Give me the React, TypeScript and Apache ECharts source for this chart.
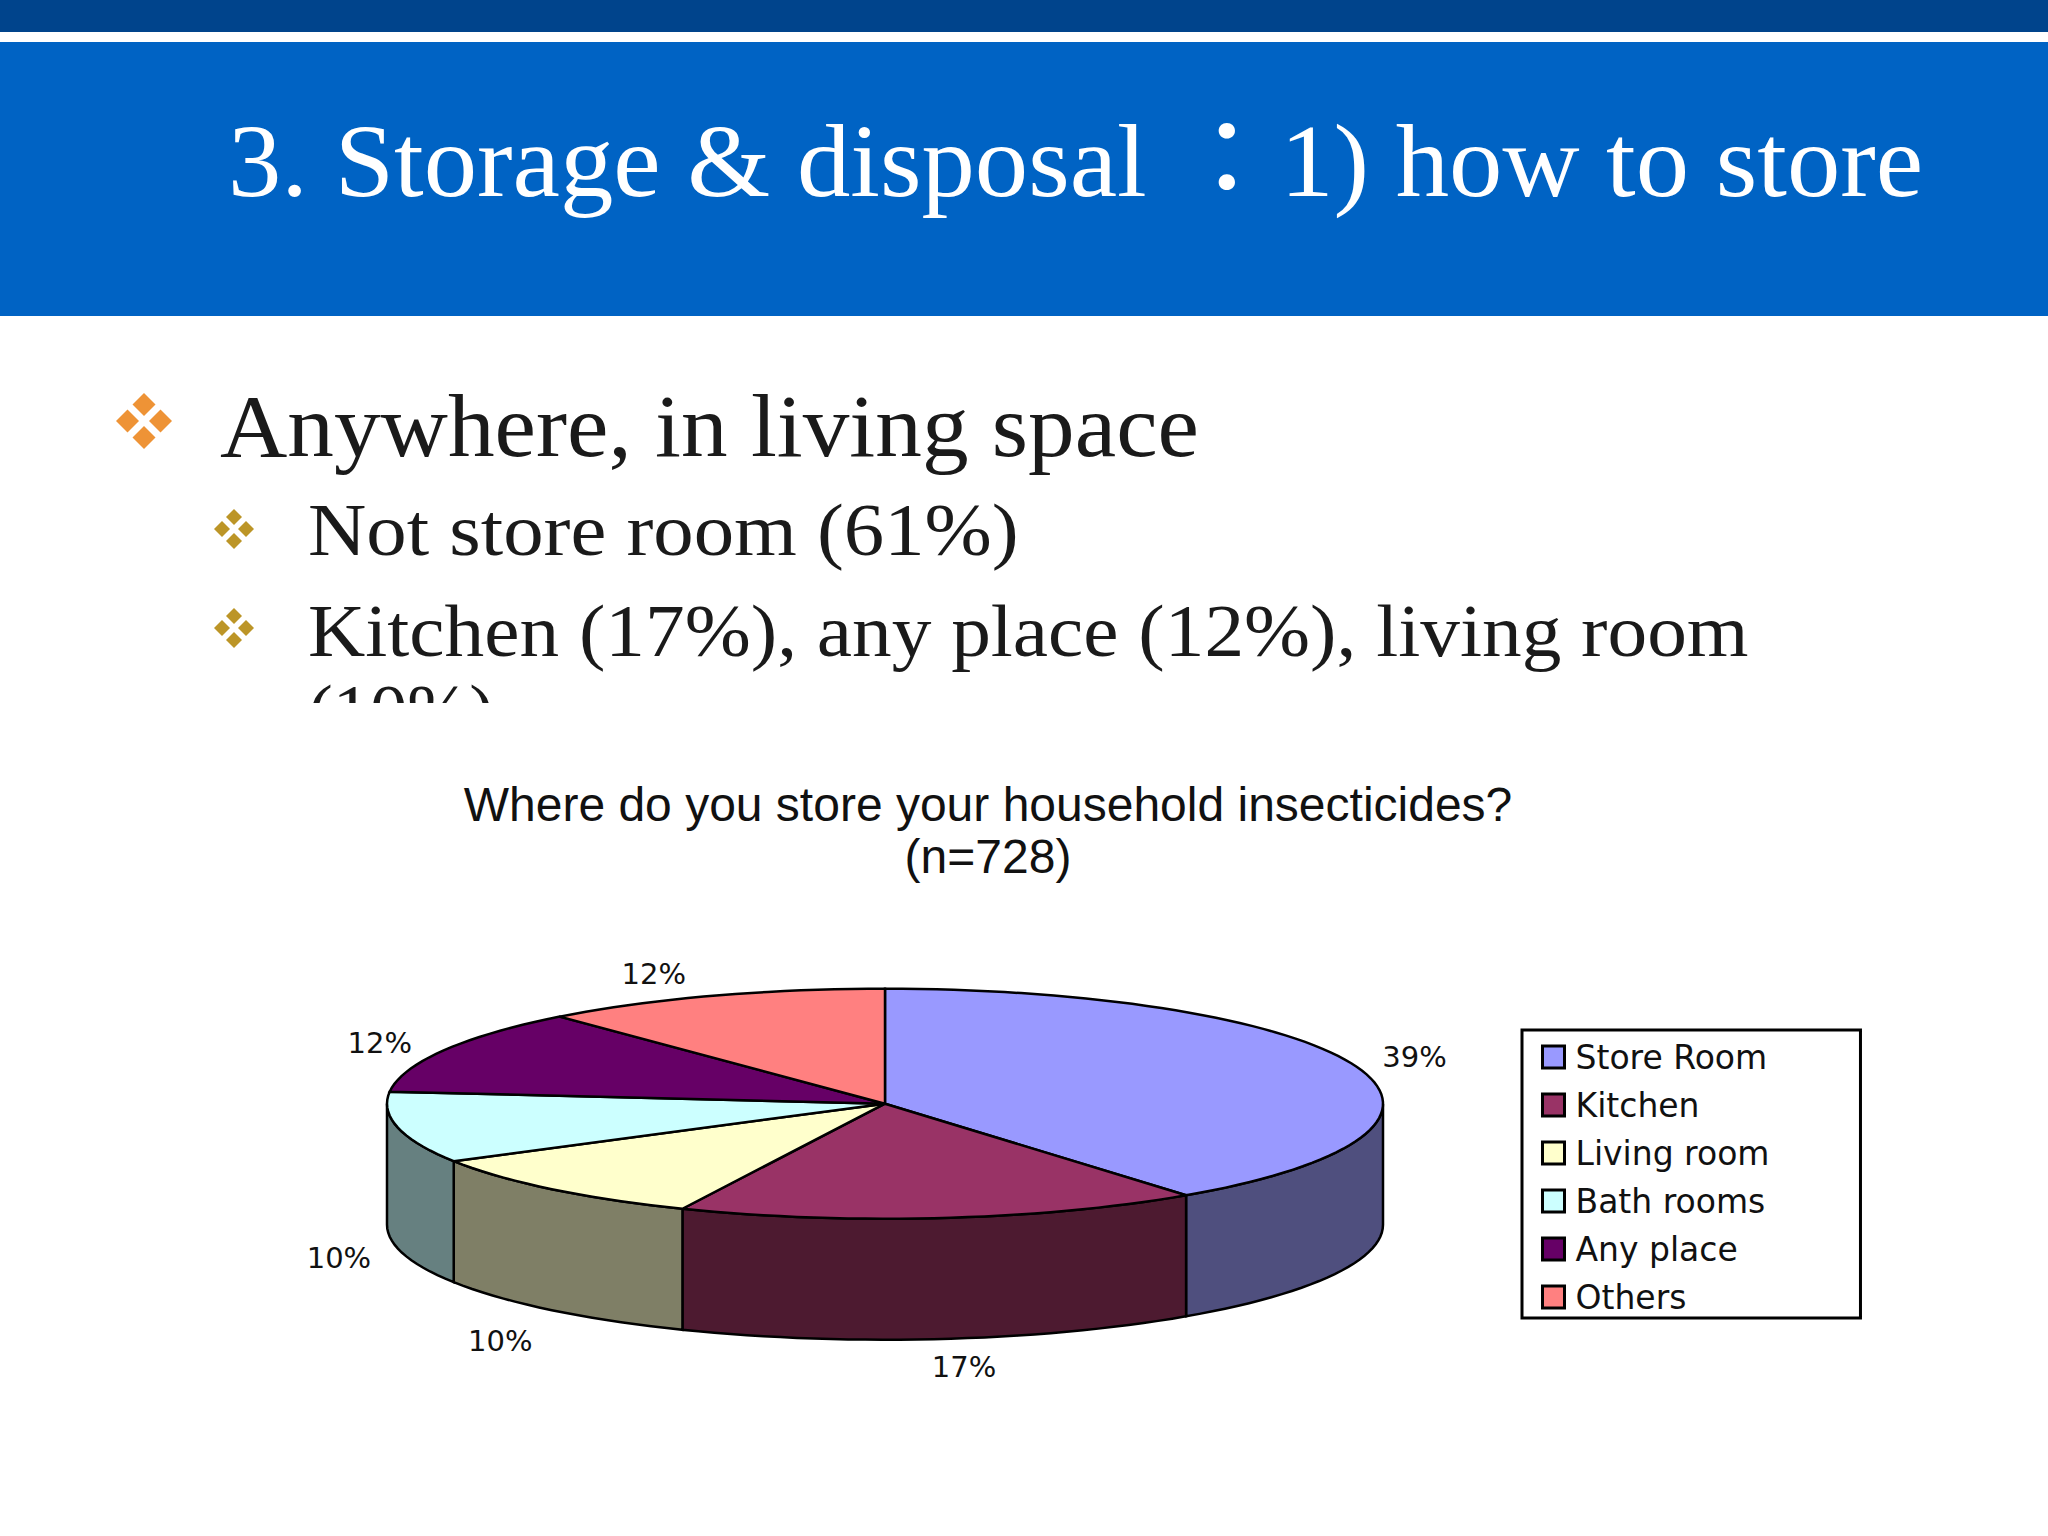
import React, { useEffect, useRef } from "react";
import * as echarts from "echarts";

const categories = ["Store Room", "Kitchen", "Living room", "Bath rooms", "Any place", "Others"];
const shares = [39, 17, 10, 10, 12, 12];
const topColors = ["#9999ff", "#993366", "#ffffcc", "#ccffff", "#660066", "#ff8080"];
const wallColors = ["#4f4f7e", "#4d1a30", "#7f7f66", "#668080", "#330033", "#804040"];
const chartTitle = "Where do you store your household insecticides?\n(n=728)";
const slideTitle = "3. Storage & disposal ：1) how to store";
const bulletLines = [
  { text: "Anywhere, in living space", x: 220, base: 453, size: 88, right: 1199 },
  { text: "Not store room (61%)", x: 308, base: 552, size: 74, right: 1019 },
  { text: "Kitchen (17%), any place (12%), living room", x: 308, base: 654, size: 74, right: 1749 },
  { text: "(10%)", x: 308, base: 733, size: 74, right: 494 },
];
const bullets = [
  { x: 144, y: 421, off: 16.5, half: 11.5, color: "#ee9336" },
  { x: 234, y: 529, off: 12, half: 8, color: "#bc9527" },
  { x: 234, y: 628, off: 12, half: 8, color: "#bc9527" },
];
const labelNudges = [[0, -3], [-9, 4], [-26, 6], [-1, -9], [4, -5], [-24, -9]];

const CX = 885, CY = 1103.7, RX = 498, RY = 115, DEPTH = 121;
const EDGE_SHIFT = 2.4; // the reference's 3D projection turns the inner slice edges slightly clockwise
const SERIF = '"Liberation Serif", "Noto Sans CJK JP", serif';

const total = shares.reduce((a, b) => a + b, 0);
const rim = (deg: number, dy = 0, k = 1) => {
  const r = (deg * Math.PI) / 180;
  return [CX + RX * k * Math.sin(r), CY - RY * k * Math.cos(r) + dy];
};
const arc = (a0: number, a1: number, dy = 0) => {
  const pts: number[][] = [];
  const n = Math.max(2, Math.ceil((a1 - a0) / 2));
  for (let i = 0; i <= n; i++) pts.push(rim(a0 + ((a1 - a0) * i) / n, dy));
  return pts;
};

const fitScale = (text: string, font: string, width: number) => {
  const ctx = document.createElement("canvas").getContext("2d")!;
  ctx.font = font;
  return width / ctx.measureText(text).width;
};

const slideText = (text: string, x: number, base: number, size: number, right: number, fill: string) => {
  const font = `${size}px ${SERIF}`;
  return {
    type: "text",
    x,
    y: base - size * 0.3,
    scaleX: fitScale(text, font, right - x),
    silent: true,
    style: { text, font, fill, textAlign: "left", textVerticalAlign: "middle" },
  };
};

const diamond = (x: number, y: number, h: number, color: string) => ({
  type: "polygon",
  silent: true,
  shape: { points: [[x, y - h], [x + h, y], [x, y + h], [x - h, y]] },
  style: { fill: color },
});

export default function App() {
  const ref = useRef<HTMLDivElement>(null);
  useEffect(() => {
    const chart = echarts.init(ref.current!, null, { renderer: "svg" });
    let acc = 0;
    const series = categories.map((name, i) => {
      const raw0 = (acc / total) * 360;
      acc += shares[i];
      const raw1 = (acc / total) * 360;
      const a0 = i === 0 ? raw0 : raw0 + EDGE_SHIFT;
      const a1 = i === categories.length - 1 ? raw1 : raw1 + EDGE_SHIFT;
      return {
        type: "custom",
        name,
        coordinateSystem: "none",
        silent: true,
        itemStyle: { color: topColors[i] },
        data: [shares[i]],
        renderItem: (_p: any, api: any) => {
          const children: any[] = [];
          const w0 = Math.max(a0, 90), w1 = Math.min(a1, 270);
          if (w1 > w0) {
            children.push({
              type: "polygon",
              shape: { points: [...arc(w0, w1), ...arc(w0, w1, DEPTH).reverse()] },
              style: { fill: wallColors[i], stroke: "#000", lineWidth: 2.5 },
            });
          }
          children.push({
            type: "polygon",
            shape: { points: [[CX, CY], ...arc(a0, a1)] },
            style: { fill: topColors[i], stroke: "#000", lineWidth: 2.5 },
          });
          const mid = (raw0 + raw1) / 2;
          const r = (mid * Math.PI) / 180;
          const front = Math.cos(r) < 0 && mid > 120 ? DEPTH + 10 : Math.sin(r) < -0.95 ? DEPTH - 5 : 0;
          const pos = rim(mid, front, 1.13);
          children.push({
            type: "text",
            x: pos[0] + labelNudges[i][0],
            y: pos[1] + labelNudges[i][1],
            style: {
              text: `${api.value(0)}%`,
              font: '29px "DejaVu Sans", sans-serif',
              fill: "#111",
              textAlign: "center",
              textVerticalAlign: "middle",
            },
          });
          return { type: "group", children };
        },
      };
    });

    const bulletMarks = bullets.flatMap((b) => [
      diamond(b.x, b.y - b.off, b.half, b.color),
      diamond(b.x, b.y + b.off, b.half, b.color),
      diamond(b.x - b.off, b.y, b.half, b.color),
      diamond(b.x + b.off, b.y, b.half, b.color),
    ]);

    chart.setOption({
      animation: false,
      backgroundColor: "#ffffff",
      title: {
        text: chartTitle,
        left: 983,
        top: 773,
        textAlign: "center",
        textStyle: {
          fontFamily: '"Liberation Sans", sans-serif',
          fontWeight: "normal",
          fontSize: 48,
          lineHeight: 52,
          color: "#111",
        },
      },
      legend: {
        orient: "vertical",
        left: 1522,
        top: 1030,
        padding: [9, 91, 3, 19],
        itemWidth: 22,
        itemHeight: 22,
        itemGap: 12,
        icon: "rect",
        selectedMode: false,
        borderColor: "#000",
        borderWidth: 3,
        backgroundColor: "#fff",
        itemStyle: { borderColor: "#000", borderWidth: 3 },
        textStyle: {
          fontFamily: '"DejaVu Sans", sans-serif',
          fontSize: 33,
          lineHeight: 36,
          color: "#111",
          padding: [0, 0, 0, 6],
        },
        data: categories,
      },
      graphic: [
        { type: "rect", silent: true, shape: { x: 0, y: 0, width: 2048, height: 32 }, style: { fill: "#00448c" } },
        { type: "rect", silent: true, shape: { x: 0, y: 42, width: 2048, height: 274 }, style: { fill: "#0063c4" } },
        slideText(slideTitle, 228, 192, 104, 1924, "#ffffff"),
        ...bulletMarks,
        ...bulletLines.map((l) => slideText(l.text, l.x, l.base, l.size, l.right, "#1a1a1a")),
        { type: "rect", silent: true, shape: { x: 200, y: 703, width: 400, height: 60 }, style: { fill: "#ffffff" } },
      ],
      series,
    });
    return () => chart.dispose();
  }, []);
  return <div ref={ref} style={{ position: "fixed", left: 0, top: 0, width: 2048, height: 1536 }} />;
}
